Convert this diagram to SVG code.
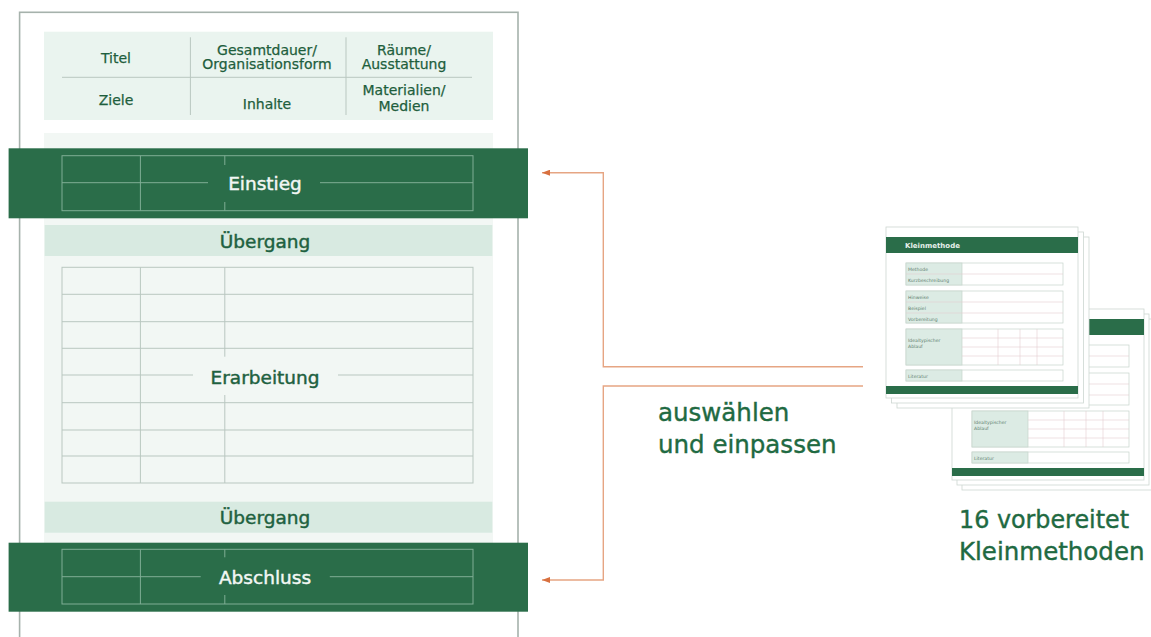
<svg xmlns="http://www.w3.org/2000/svg" xmlns:xlink="http://www.w3.org/1999/xlink" width="1151" height="637" viewBox="0 0 1151 637">
  <style>
    text { font-family: 'DejaVu Sans', 'Liberation Sans', sans-serif; }
    .hdr { font-size: 14px; fill: #1e5e3d; stroke: #1e5e3d; stroke-width: 0.25; text-anchor: middle; }
    .lbl { font-size: 18.5px; fill: #1e6140; stroke: #1e6140; stroke-width: 0.45; text-anchor: middle; }
    .lblw { font-size: 18.5px; fill: #f2f7f4; stroke: #f2f7f4; stroke-width: 0.45; text-anchor: middle; }
    .big { font-size: 24.5px; fill: #1f6a42; stroke: #1f6a42; stroke-width: 0.4; }
    .grid { stroke: #b9c7c0; stroke-width: 1; fill: none; }
    .bandline { stroke: #7fae95; stroke-width: 1; fill: none; }
    .band { fill: #2a6d49; }
    .pale { fill: #d8eae1; }
    .conn { stroke: #e6a583; stroke-width: 1.4; fill: none; }
    .sheet { fill: #ffffff; stroke: #cdd6d1; stroke-width: 0.8; }
    .cbox { fill: #ffffff; stroke: #c6d4cc; stroke-width: 0.7; }
    .ccell { fill: #dcebe4; stroke: #c6d4cc; stroke-width: 0.7; }
    .cline { stroke: #e4cfd1; stroke-width: 0.6; fill: none; }
    .ctxt { font-size: 4.6px; fill: #5f7f6f; }
  </style>
  <defs>
    <marker id="arr" viewBox="0 0 8 6" refX="8" refY="3" markerWidth="8" markerHeight="6" markerUnits="userSpaceOnUse" orient="auto">
      <path d="M0,0 L8,3 L0,6 z" fill="#d8703f"/>
    </marker>
    <g id="card">
      <rect class="sheet" x="0" y="0" width="192" height="171"/>
      <rect class="band" x="0" y="10" width="192" height="16"/>
      <text x="19" y="21" style="font-size:7px;font-weight:bold;fill:#e8f1ec">Kleinmethode</text>
      <rect class="cbox" x="20" y="36" width="157" height="22"/>
      <rect class="ccell" x="20" y="36" width="56" height="22"/>
      <line class="cline" x1="20" y1="47" x2="177" y2="47"/>
      <text class="ctxt" x="22" y="43.5">Methode</text>
      <text class="ctxt" x="22" y="54.5">Kurzbeschreibung</text>
      <rect class="cbox" x="20" y="64" width="157" height="32"/>
      <rect class="ccell" x="20" y="64" width="56" height="32"/>
      <line class="cline" x1="20" y1="75" x2="177" y2="75"/>
      <line class="cline" x1="20" y1="86" x2="177" y2="86"/>
      <text class="ctxt" x="22" y="71.5">Hinweise</text>
      <text class="ctxt" x="22" y="82.5">Beispiel</text>
      <text class="ctxt" x="22" y="93.5">Vorbereitung</text>
      <rect class="cbox" x="20" y="102" width="157" height="36"/>
      <rect class="ccell" x="20" y="102" width="56" height="36"/>
      <line class="cline" x1="76" y1="111" x2="177" y2="111"/>
      <line class="cline" x1="76" y1="120" x2="177" y2="120"/>
      <line class="cline" x1="76" y1="129" x2="177" y2="129"/>
      <line class="cline" x1="112" y1="102" x2="112" y2="138"/>
      <line class="cline" x1="134" y1="102" x2="134" y2="138"/>
      <line class="cline" x1="151" y1="102" x2="151" y2="138"/>
      <text class="ctxt" x="22" y="115">Idealtypischer</text>
      <text class="ctxt" x="22" y="121">Ablauf</text>
      <rect class="cbox" x="20" y="143" width="157" height="11"/>
      <rect class="ccell" x="20" y="143" width="56" height="11"/>
      <text class="ctxt" x="22" y="150.5">Literatur</text>
      <rect class="band" x="0" y="159" width="192" height="8"/>
    </g>
  </defs>

  <rect x="0" y="0" width="1151" height="637" fill="#ffffff"/>

  <g id="page">
    <rect x="19.6" y="12.3" width="498.4" height="640" fill="#ffffff" stroke="#a6b2ac" stroke-width="1.6"/>
    <rect x="44" y="133" width="449" height="410" fill="#f2f7f4"/>
  </g>

  <g id="header-table">
    <rect x="44" y="31.7" width="449" height="88.3" fill="#eaf4ef"/>
    <line class="grid" x1="62" y1="77.3" x2="472" y2="77.3"/>
    <line class="grid" x1="190.4" y1="37.3" x2="190.4" y2="115"/>
    <line class="grid" x1="346" y1="37.3" x2="346" y2="115"/>
    <text class="hdr" x="116" y="63">Titel</text>
    <text class="hdr" x="267" y="55">Gesamtdauer/</text>
    <text class="hdr" x="267" y="69">Organisationsform</text>
    <text class="hdr" x="404" y="55">Räume/</text>
    <text class="hdr" x="404" y="69">Ausstattung</text>
    <text class="hdr" x="116" y="105">Ziele</text>
    <text class="hdr" x="267" y="109">Inhalte</text>
    <text class="hdr" x="404" y="95">Materialien/</text>
    <text class="hdr" x="404" y="111">Medien</text>
  </g>

  <g id="einstieg">
    <rect class="band" x="8.6" y="148.3" width="519.4" height="70"/>
    <rect class="bandline" x="62" y="155.7" width="411" height="55"/>
    <line class="bandline" x1="62" y1="182.7" x2="208" y2="182.7"/>
    <line class="bandline" x1="320" y1="182.7" x2="473" y2="182.7"/>
    <line class="bandline" x1="140.4" y1="155.7" x2="140.4" y2="210.7"/>
    <line class="bandline" x1="224.8" y1="155.7" x2="224.8" y2="165"/>
    <line class="bandline" x1="224.8" y1="202" x2="224.8" y2="210.7"/>
    <text class="lblw" x="265" y="190">Einstieg</text>
  </g>

  <g id="uebergang-1">
    <rect class="pale" x="44.7" y="225" width="447.6" height="31"/>
    <text class="lbl" x="265" y="247.5">Übergang</text>
  </g>

  <g id="erarbeitung">
    <rect class="grid" x="62" y="267.3" width="411" height="215.7"/>
    <line class="grid" x1="62" y1="294.3" x2="473" y2="294.3"/>
    <line class="grid" x1="62" y1="321.7" x2="473" y2="321.7"/>
    <line class="grid" x1="62" y1="348.3" x2="473" y2="348.3"/>
    <line class="grid" x1="62" y1="375" x2="193" y2="375"/>
    <line class="grid" x1="338" y1="375" x2="473" y2="375"/>
    <line class="grid" x1="62" y1="402.7" x2="473" y2="402.7"/>
    <line class="grid" x1="62" y1="430" x2="473" y2="430"/>
    <line class="grid" x1="62" y1="456" x2="473" y2="456"/>
    <line class="grid" x1="140.4" y1="267.3" x2="140.4" y2="483"/>
    <line class="grid" x1="224.8" y1="267.3" x2="224.8" y2="356.7"/>
    <line class="grid" x1="224.8" y1="395" x2="224.8" y2="483"/>
    <text class="lbl" x="265" y="384">Erarbeitung</text>
  </g>

  <g id="uebergang-2">
    <rect class="pale" x="44.7" y="501.7" width="447.6" height="31"/>
    <text class="lbl" x="265" y="524">Übergang</text>
  </g>

  <g id="abschluss">
    <rect class="band" x="8.6" y="542.7" width="519.4" height="69"/>
    <rect class="bandline" x="62" y="549.3" width="411" height="54.7"/>
    <line class="bandline" x1="62" y1="576.7" x2="200.7" y2="576.7"/>
    <line class="bandline" x1="329.8" y1="576.7" x2="473" y2="576.7"/>
    <line class="bandline" x1="140.4" y1="549.3" x2="140.4" y2="604"/>
    <line class="bandline" x1="224.8" y1="549.3" x2="224.8" y2="557.3"/>
    <line class="bandline" x1="224.8" y1="595" x2="224.8" y2="604"/>
    <text class="lblw" x="265" y="584">Abschluss</text>
  </g>

  <g id="connectors">
    <path class="conn" d="M863,366.7 H603.3 V172.7 H542" marker-end="url(#arr)"/>
    <path class="conn" d="M863,386 H603.3 V580 H542" marker-end="url(#arr)"/>
  </g>

  <g id="label-auswaehlen">
    <text class="big" x="658" y="421">auswählen</text>
    <text class="big" x="658" y="453">und einpassen</text>
  </g>

  <g id="card-stack-back">
    <rect class="sheet" x="962" y="319" width="192" height="171"/>
    <rect class="sheet" x="957" y="314" width="192" height="171"/>
    <use xlink:href="#card" x="952" y="309"/>
  </g>

  <g id="card-stack-front">
    <rect class="sheet" x="897" y="237" width="192" height="171"/>
    <rect class="sheet" x="891.5" y="232" width="192" height="171"/>
    <use xlink:href="#card" x="886" y="227"/>
  </g>

  <g id="label-kleinmethoden">
    <text class="big" x="959" y="528" textLength="170" lengthAdjust="spacingAndGlyphs">16 vorbereitet</text>
    <text class="big" x="959" y="560">Kleinmethoden</text>
  </g>
</svg>
